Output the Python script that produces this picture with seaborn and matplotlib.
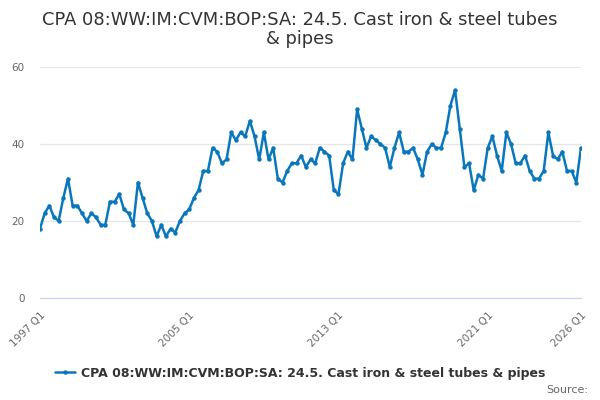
import matplotlib
matplotlib.use("Agg")
import matplotlib.pyplot as plt
import seaborn as sns
import pandas as pd
import numpy as np

TITLE = "CPA 08:WW:IM:CVM:BOP:SA: 24.5. Cast iron & steel tubes\n& pipes"
SERIES = "CPA 08:WW:IM:CVM:BOP:SA: 24.5. Cast iron & steel tubes & pipes"

start_year = 1997
end_year = 2026

values = [
    18, 22, 24, 21, 20, 26, 31, 24, 24, 22, 20, 22, 21, 19, 19, 25,
    25, 27, 23, 22, 19, 30, 26, 22, 20, 16, 19, 16, 18, 17, 20, 22,
    23, 26, 28, 33, 33, 39, 38, 35, 36, 43, 41, 43, 42, 46, 42, 36,
    43, 36, 39, 31, 30, 33, 35, 35, 37, 34, 36, 35, 39, 38, 37, 28,
    27, 35, 38, 36, 49, 44, 39, 42, 41, 40, 39, 34, 39, 43, 38, 38,
    39, 36, 32, 38, 40, 39, 39, 43, 50, 54, 44, 34, 35, 28, 32, 31,
    39, 42, 37, 33, 43, 40, 35, 35, 37, 33, 31, 31, 33, 43, 37, 36,
    38, 33, 33, 30, 39,
]

quarters = [f"{y} Q{q}" for y in range(start_year, end_year + 1) for q in range(1, 5)]
quarters = quarters[:len(values)]

labelled = ["1997 Q1", "2005 Q1", "2013 Q1", "2021 Q1", "2026 Q1"]
y_ticks = [0, 20, 40, 60]

df = pd.DataFrame({"idx": np.arange(len(values)), "quarter": quarters, "value": values})

sns.set_style("white")
plt.rcParams['font.family'] = ['DejaVu Sans']

fig, ax = plt.subplots(figsize=(6, 4), dpi=100)
fig.subplots_adjust(left=40 / 600, right=581 / 600, bottom=1 - 298 / 400, top=1 - 67 / 400)

line_col = "#0a77bd"
sns.lineplot(data=df, x="idx", y="value", ax=ax, color=line_col, linewidth=1.8,
             marker="o", markersize=3.2, markeredgewidth=0, label=SERIES)

ax.set_xlim(0, len(values) - 1)
ax.set_ylim(0, 60)
ax.set_yticks(y_ticks)
ax.set_yticklabels([str(v) for v in y_ticks], color="#666666", fontsize=7.5)
ax.yaxis.grid(True, color="#e6e6e6", linewidth=0.9)
ax.set_axisbelow(True)
ax.tick_params(axis="y", length=0, pad=11)

# ticks every two years plus the final quarter
tick_pos = [i for i, q in enumerate(quarters) if q.endswith("Q1") and (int(q[:4]) - start_year) % 2 == 0 and int(q[:4]) <= 2023]
tick_pos.append(len(values) - 1)
ax.set_xticks(tick_pos)
ax.set_xticklabels([quarters[i] if quarters[i] in labelled else "" for i in tick_pos],
                   rotation=45, ha="right", rotation_mode="anchor", color="#666666", fontsize=7.5)
ax.tick_params(axis="x", length=7, color="#ccd6eb", width=0.9, pad=2)

for s in ["top", "right", "left"]:
    ax.spines[s].set_visible(False)
ax.spines["bottom"].set_color("#ccd6eb")
ax.spines["bottom"].set_linewidth(0.9)

ax.set_xlabel("")
ax.set_ylabel("")

fig.suptitle(TITLE, x=0.5, y=0.973, fontsize=12.9, color="#333333", linespacing=1.1)

leg = ax.legend(loc="center", bbox_to_anchor=(0.5 - (40 / 600 + 581 / 600 - 1) / 2 / (541 / 600), -0.325),
                frameon=False, fontsize=9, handlelength=1.6, handletextpad=0.5)
for t in leg.get_texts():
    t.set_fontweight("bold")
    t.set_color("#333333")

fig.text(588 / 600, 1 - 390 / 400, "Source:", ha="right", va="center", fontsize=8, color="#666666")

fig.savefig("out.png", dpi=100)
